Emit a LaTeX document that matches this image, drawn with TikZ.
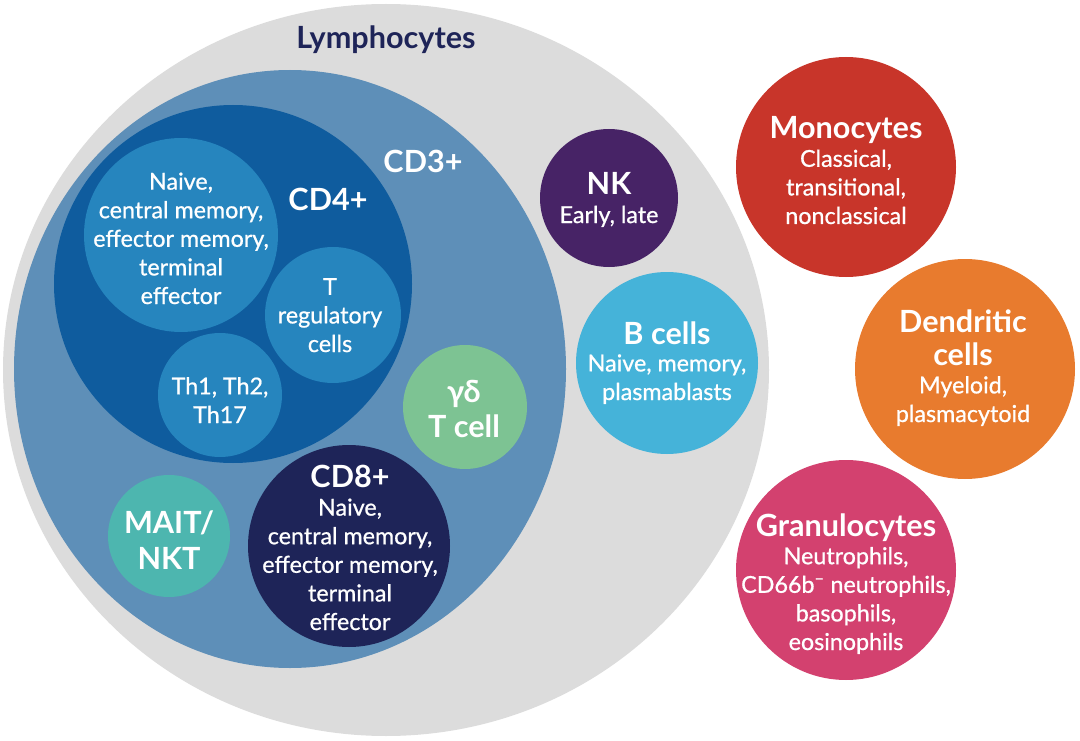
\documentclass[tikz,border=0pt]{standalone}
\usepackage{fontspec}
\setmainfont{Lato}
\newfontfamily\medfont{Lato}[FakeBold=0.8]
\definecolor{lymgray}{HTML}{DCDCDC}
\definecolor{cdthree}{HTML}{5E8FB8}
\definecolor{cdfour}{HTML}{0F5C9E}
\definecolor{subset}{HTML}{2685BE}
\definecolor{gdgreen}{HTML}{7DC393}
\definecolor{cdeight}{HTML}{1E2458}
\definecolor{maitteal}{HTML}{4DB6AF}
\definecolor{nkpurple}{HTML}{472366}
\definecolor{bblue}{HTML}{45B3D9}
\definecolor{monored}{HTML}{C8352A}
\definecolor{dendorange}{HTML}{E87B2E}
\definecolor{granpink}{HTML}{D3416F}

\begin{document}
\begin{tikzpicture}[
  x=1pt, y=-1pt,
  head/.style={font=\fontsize{30.6}{33}\selectfont\bfseries, text=white,
               align=center, inner sep=0pt, anchor=base},
  body/.style={font=\medfont\fontsize{23.3}{28.6}\selectfont, text=white,
               align=center, inner sep=0pt, anchor=base},
  every node/.style={font=\small}]
\useasboundingbox (0,0) rectangle (1080,741);

% ---- centres of the populations, in pixels of the original figure -----
\coordinate (lymC)   at (386,370);
\coordinate (cd3C)   at (290,369);
\coordinate (cd4C)   at (233,284);
\coordinate (naiveC) at (181,235);
\coordinate (tregC)  at (333,315);
\coordinate (thC)    at (220,395);
\coordinate (gdC)    at (465,407);
\coordinate (cd8C)   at (349,546);
\coordinate (maitC)  at (169,536);
\coordinate (nkC)    at (609,198);
\coordinate (bC)     at (667,363);
\coordinate (monoC)  at (846,167);
\coordinate (dendC)  at (965,369);
\coordinate (granC)  at (846,570);

% ---- the nested lymphocyte discs ---------------------------------------
\fill[lymgray] (lymC) ellipse [x radius=383, y radius=366];
\fill[cdthree] (cd3C) ellipse [x radius=276, y radius=299];
\fill[cdfour]  (cd4C) circle [radius=179];
\fill[subset]  (naiveC) circle [radius=97] (tregC) circle [radius=68]
               (thC) circle [radius=62];
\fill[gdgreen]  (gdC)   circle [radius=62];
\fill[cdeight]  (cd8C)  circle [radius=101];
\fill[maitteal] (maitC) circle [radius=61];
\fill[nkpurple] (nkC)   circle [radius=69];
\fill[bblue]    (bC)    circle [radius=91];

% ---- the myeloid discs, outside ----------------------------------------
\fill[monored]    (monoC) circle [radius=110];
\fill[dendorange] (dendC) circle [radius=110];
\fill[granpink]   (granC) circle [radius=110];

% ---- labels; a node of several lines sits on the baseline of its last
% line -------------------------------------------------------------------
\node[head, text=cdeight] (lymT) at (386,49) {Lymphocytes};
\node[head] (cd3T) at (423,173) {CD3+};
\node[head] (cd4T) at (328,211) {CD4+};
\node[body] (naiveT) at (181,304)
  {Naive,\\central memory,\\effector memory,\\terminal\\effector};
\node[body] (tregT) at (330,352) {T\\regulatory\\cells};
\node[body] (thT) at (220,423) {Th1, Th2,\\Th17};
\node[head] (gdT) at (464,437) {γδ\\[2pt]T cell};
\node[head] (cd8T) at (350,487) {CD8+};
\node[body] (cd8L) at (350,630)
  {Naive,\\central memory,\\effector memory,\\terminal\\effector};
\node[head] (maitT) at (169,569) {MAIT/\\[3pt]NKT};
\node[head] (nkT) at (609,195) {NK};
\node[body] (nkL) at (609,223) {Early, late};
\node[head] (bT) at (667,344) {B cells};
\node[body] (bL) at (667,400) {Naive, memory,\\plasmablasts};
\node[head] (monoT) at (846,139) {Monocytes};
\node[body] (monoL) at (846,224) {Classical,\\transitional,\\nonclassical};
\node[head] (dendT) at (963,365) {Dendritic\\cells};
\node[body] (dendL) at (963,422) {Myeloid,\\plasmacytoid};
\node[head] (granT) at (846,536) {Granulocytes};
\node[body] (granL) at (846,650)
  {Neutrophils,\\CD66b\textsuperscript{–} neutrophils,\\basophils,\\eosinophils};
\end{tikzpicture}
\end{document}
